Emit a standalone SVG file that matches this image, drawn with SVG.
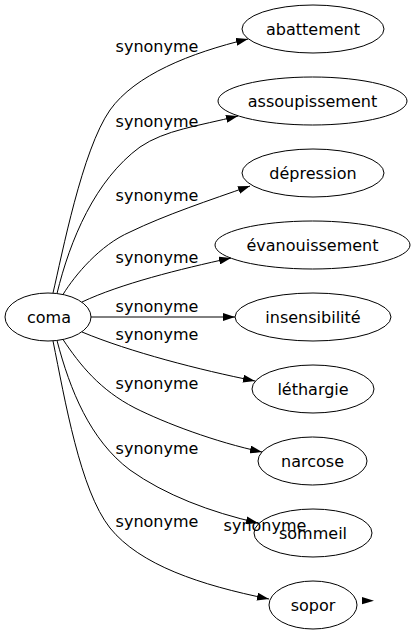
<svg xmlns="http://www.w3.org/2000/svg" width="416" height="635" viewBox="0 0 416 635">
<style>
  .node ellipse { fill: none; stroke: #000000; stroke-width: 1; }
  .node text { font-family: "DejaVu Sans", "Liberation Sans", sans-serif; font-size: 16px; fill: #000000; text-anchor: middle; }
  .edges path { fill: none; stroke: #000000; stroke-width: 1; marker-end: url(#arrow); }
  .edges text { font-family: "DejaVu Sans", "Liberation Sans", sans-serif; font-size: 16px; fill: #000000; text-anchor: middle; }
</style>
<defs>
  <marker id="arrow" markerUnits="userSpaceOnUse" markerWidth="12" markerHeight="8" refX="12" refY="4" orient="auto">
    <path d="M0,0 L12,4 L0,8 z" fill="#000000"/>
  </marker>
</defs>
<rect width="416" height="635" fill="#ffffff"/>
<g id="node-coma" class="node">
  <ellipse cx="48" cy="317" rx="43" ry="24"/>
  <text x="49" y="323">coma</text>
</g>
<g id="node-abattement" class="node">
  <ellipse cx="313" cy="29" rx="71" ry="24"/>
  <text x="313" y="35">abattement</text>
</g>
<g id="node-assoupissement" class="node">
  <ellipse cx="312.5" cy="101" rx="94.5" ry="24"/>
  <text x="312.5" y="107">assoupissement</text>
</g>
<g id="node-depression" class="node">
  <ellipse cx="313" cy="173" rx="71" ry="24"/>
  <text x="313" y="179">dépression</text>
</g>
<g id="node-evanouissement" class="node">
  <ellipse cx="312.5" cy="245" rx="97.5" ry="24"/>
  <text x="312.5" y="251">évanouissement</text>
</g>
<g id="node-insensibilite" class="node">
  <ellipse cx="313" cy="317" rx="78" ry="24"/>
  <text x="313" y="323">insensibilité</text>
</g>
<g id="node-lethargie" class="node">
  <ellipse cx="313" cy="389" rx="61" ry="24"/>
  <text x="313" y="395">léthargie</text>
</g>
<g id="node-narcose" class="node">
  <ellipse cx="312.5" cy="461" rx="54.5" ry="24"/>
  <text x="312.5" y="467">narcose</text>
</g>
<g id="node-sommeil" class="node">
  <ellipse cx="313" cy="533" rx="59" ry="24"/>
  <text x="313" y="539">sommeil</text>
</g>
<g id="node-sopor" class="node">
  <ellipse cx="313" cy="605" rx="44" ry="24"/>
  <text x="313" y="611">sopor</text>
</g>
<g id="connectors" class="edges">
  <path d="M53,293 C62,255 82,150 110,110 C135,75 190,53 248,39"/>
  <path d="M57,293.5 C70,240 95,180 140,147 C165,130 198,126 238,116"/>
  <path d="M63,294.5 C75,275 100,245 130,232 C165,215 210,200 250,186"/>
  <path d="M82,302 C120,284 180,269 231,258"/>
  <path d="M91,317 L235,317"/>
  <path d="M82,332 C130,352 200,370 255,381"/>
  <path d="M63,339.5 C80,365 100,390 135,408 C165,423 215,442 262,452"/>
  <path d="M57,340.5 C70,390 90,440 130,470 C165,495 210,512 258,523"/>
  <path d="M53,341 C65,400 80,490 110,528 C140,565 200,585 269,599"/>
  <polygon points="362,597 374,600.7 362,604.3" fill="#000000"/>
  <text x="157" y="52">synonyme</text>
  <text x="157" y="127">synonyme</text>
  <text x="157" y="200.5">synonyme</text>
  <text x="157" y="263">synonyme</text>
  <text x="157" y="312">synonyme</text>
  <text x="157" y="340">synonyme</text>
  <text x="157" y="389">synonyme</text>
  <text x="157" y="453.5">synonyme</text>
  <text x="157" y="526.5">synonyme</text>
  <text x="265" y="531">synonyme</text>
</g>
</svg>
